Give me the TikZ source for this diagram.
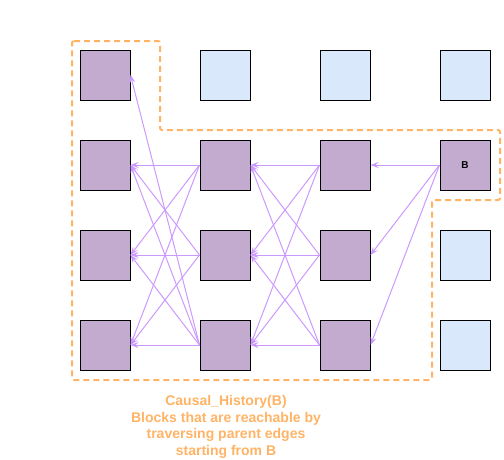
\documentclass[tikz,border=0pt]{standalone}
\usepackage{fontspec}
\setmainfont{Liberation Sans}
\usetikzlibrary{positioning, arrows.meta}
\definecolor{blockpurple}{HTML}{C3ABD0}
\definecolor{blockblue}{HTML}{DAE8FC}
\definecolor{edgepurple}{HTML}{CC99FF}
\definecolor{historange}{HTML}{FFB366}

\begin{document}
\begin{tikzpicture}[x=1pt, y=-1pt,
    block/.style={draw=black, line width=1pt, minimum size=50pt, inner sep=0pt, fill=blockpurple},
    future/.style={block, fill=blockblue},
    parent/.style={draw=edgepurple, line width=1pt, -{Stealth[length=8pt, width=6pt, inset=3pt]}},
    history/.style={draw=historange, line width=2pt, dash pattern=on 6pt off 4pt, rounded corners=2pt}]
    \useasboundingbox (0,0) rectangle (504,459);
    % causal history boundary
    \draw[history] (72,41) -- (160,41) -- (160,130) -- (500,130) -- (500,200) -- (432,200) -- (432,380) -- (72,380) -- cycle;
    % blocks
    \foreach \c/\r in {0/0,0/1,0/2,0/3,1/1,1/2,1/3,2/1,2/2,2/3}
    {
    \node[block] (blk\c\r) at ({105+120*\c},{75+90*\r}) {};
    }
    \foreach \c/\r in {1/0,2/0,3/0,3/2,3/3}
    {
    \node[future] (blk\c\r) at ({105+120*\c},{75+90*\r}) {};
    }
    \node[block, font=\bfseries\fontsize{10}{11}\selectfont] (blk31) at (465,165) {B};
    % parent edges
    \foreach \r in {1,2,3}
    {
    \draw[parent] (blk31.west) -- (blk2\r.east);
    }
    \foreach \c/\p in {1/0,2/1}
    {
    \foreach \r in {1,2,3}
    {
    \foreach \s in {1,2,3}
    {
    \draw[parent] (blk\c\r.west) -- (blk\p\s.east);
    }
    }
    }
    \draw[parent] (blk13.west) -- (blk00.east);
    \node[text=historange, font=\bfseries\fontsize{14}{16.8}\selectfont, align=center, anchor=north, inner sep=0pt] (caption) at (226,395) {Causal\_History(B)\\Blocks that are reachable by\\traversing parent edges\\starting from B};
\end{tikzpicture}
\end{document}
